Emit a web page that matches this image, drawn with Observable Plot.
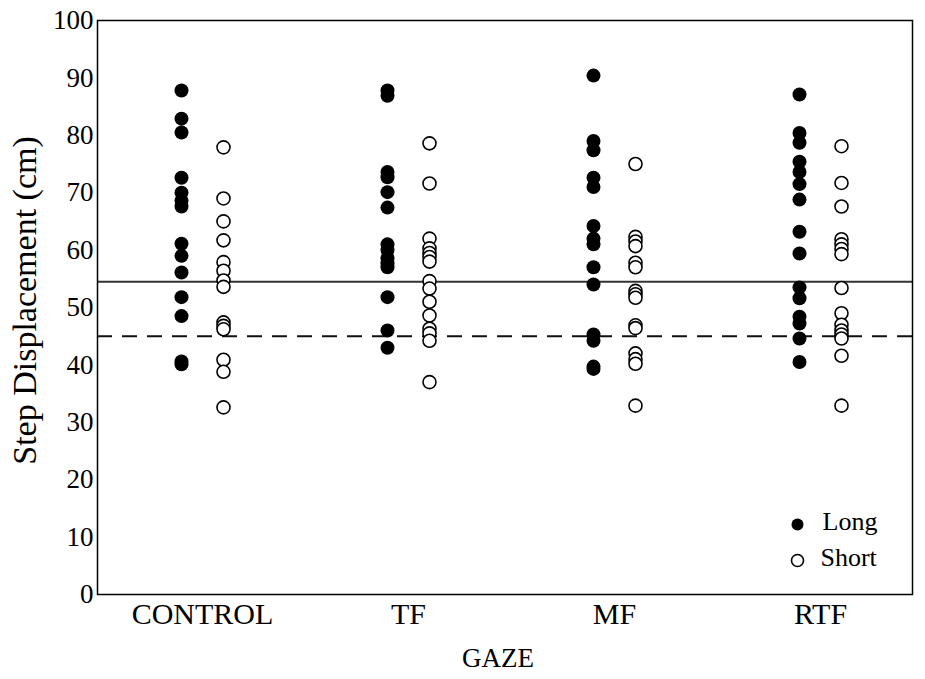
<!DOCTYPE html>
<html><head><meta charset="utf-8">
<script src="https://cdn.jsdelivr.net/npm/d3@7"></script>
<script src="https://cdn.jsdelivr.net/npm/@observablehq/plot@0.6"></script>
<style>
body{margin:0;background:#fff;}
#chart svg{font-family:"Liberation Serif","Times New Roman",serif;}
</style>
</head><body><div id="chart"></div>
<script>
const groups = ["CONTROL", "TF", "MF", "RTF"];
const conditions = ["Long", "Short"];
const controlLong = [87.8, 82.9, 80.5, 72.6, 70.0, 68.6, 67.6, 61.1, 59.0, 56.1, 51.8, 48.5, 40.6, 40.1];
const controlShort = [77.9, 69.0, 65.0, 61.7, 57.9, 56.4, 54.7, 53.6, 47.4, 46.8, 46.2, 40.9, 38.8, 32.6];
const tfLong = [87.8, 86.9, 73.6, 72.7, 70.1, 67.4, 61.0, 60.0, 58.6, 57.7, 57.0, 51.8, 46.0, 43.0];
const tfShort = [78.6, 71.6, 62.0, 60.3, 59.5, 58.8, 58.0, 54.6, 53.3, 51.0, 48.6, 46.3, 45.5, 44.2, 37.0];
const mfLong = [90.4, 79.0, 77.4, 72.6, 71.0, 64.2, 62.0, 61.0, 57.0, 54.0, 45.3, 44.2, 39.7, 39.3];
const mfShort = [75.0, 62.3, 61.5, 60.7, 57.8, 57.0, 52.9, 52.3, 51.7, 46.9, 46.4, 42.0, 41.0, 40.2, 32.9];
const rtfLong = [87.1, 80.4, 78.7, 75.4, 73.6, 71.5, 68.8, 63.2, 59.4, 53.5, 51.6, 48.4, 47.2, 44.6, 40.5];
const rtfShort = [78.1, 71.7, 67.6, 61.9, 61.0, 60.2, 59.3, 53.4, 49.0, 47.0, 46.0, 45.3, 44.6, 41.6, 32.9];
const meanLong = [54.5];
const meanShort = [45.0];
const yTicks = [0, 10, 20, 30, 40, 50, 60, 70, 80, 90, 100];
const xLabel = "GAZE";
const yLabel = "Step Displacement (cm)";

const series = {
  CONTROL: {Long: controlLong, Short: controlShort},
  TF: {Long: tfLong, Short: tfShort},
  MF: {Long: mfLong, Short: mfShort},
  RTF: {Long: rtfLong, Short: rtfShort}
};
const rows = [];
for (const g of groups) for (const c of conditions) for (const v of series[g][c]) rows.push({gaze: g, cond: c, value: v});

const font = "Liberation Serif";
const chart = Plot.plot({
  width: 925, height: 679,
  marginLeft: 97, marginRight: 13, marginTop: 20, marginBottom: 85,
  style: {fontFamily: font, background: "#fff", color: "#000"},
  x: {type: "point", domain: groups, padding: 0, insetLeft: 105, insetRight: 92},
  y: {domain: [0, 100]},
  marks: [
    Plot.ruleY(meanLong, {stroke: "#333", strokeWidth: 2}),
    Plot.ruleY(meanShort, {stroke: "#111", strokeWidth: 2, strokeDasharray: "15,10"}),
    Plot.frame({stroke: "#000", strokeWidth: 1.5}),
    Plot.dot(rows.filter(d => d.cond === "Long"), {x: "gaze", y: "value", dx: -21, r: 7, fill: "#000", stroke: "none"}),
    Plot.dot(rows.filter(d => d.cond === "Short"), {x: "gaze", y: "value", dx: 21, r: 6.5, fill: "#fff", stroke: "#000", strokeWidth: 1.6}),
    Plot.axisY({ticks: yTicks, tickSize: 0, tickPadding: 4, fontSize: 27, label: null, fontFamily: font}),
    Plot.axisX({tickSize: 0, tickPadding: 8, fontSize: 30, label: null, fontFamily: font}),
    Plot.text([xLabel], {frameAnchor: "bottom", dx: -7, dy: 72, fontSize: 27, fontFamily: font, fill: "#000"}),
    Plot.text([yLabel], {frameAnchor: "left", textAnchor: "middle", dx: -72, dy: -7, rotate: -90, fontSize: 34, fontFamily: font, fill: "#000"}),
    Plot.dot([conditions[0]], {frameAnchor: "bottom-right", dx: -115, dy: -70, r: 6, fill: "#000", stroke: "none"}),
    Plot.dot([conditions[1]], {frameAnchor: "bottom-right", dx: -115, dy: -34, r: 6, fill: "#fff", stroke: "#000", strokeWidth: 1.6}),
    Plot.text([conditions[0]], {frameAnchor: "bottom-right", dx: -90, dy: -65, textAnchor: "start", fontSize: 26, fontFamily: font, fill: "#000"}),
    Plot.text([conditions[1]], {frameAnchor: "bottom-right", dx: -92, dy: -29, textAnchor: "start", fontSize: 26, fontFamily: font, fill: "#000"})
  ]
});
document.getElementById("chart").appendChild(chart);
</script>
</body></html>
